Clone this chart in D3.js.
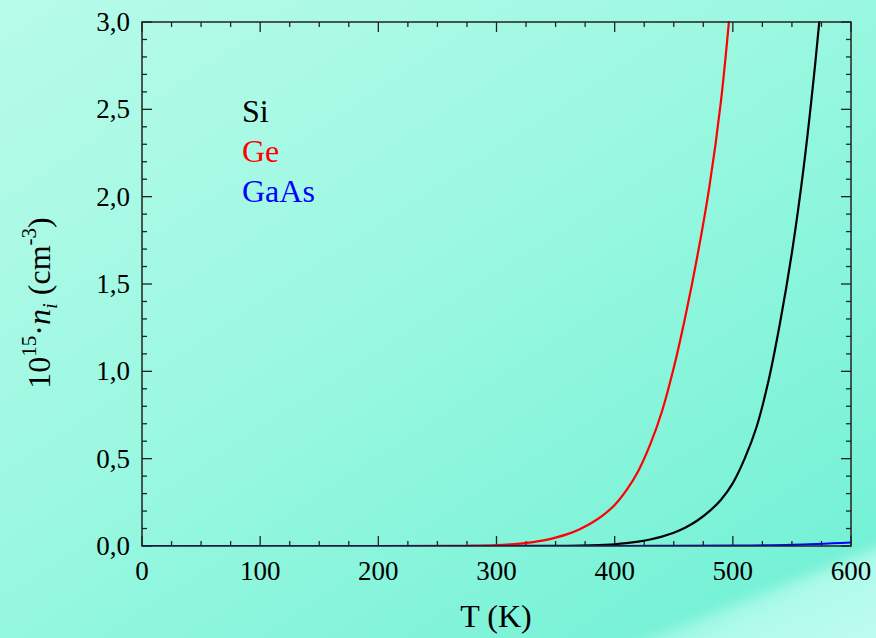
<!DOCTYPE html>
<html>
<head>
<meta charset="utf-8">
<script src="https://cdn.jsdelivr.net/npm/d3@7"></script>
<style>
	html, body { margin: 0; padding: 0; overflow: hidden; }
	svg { display: block; font-family: "Liberation Serif", "Times New Roman", serif; }
</style>
</head>
<body>
<div id="chart"></div>
<script>
// temperatures (K) and intrinsic carrier density (10^15 cm^-3)
const geT = [0, 200, 260, 280, 300, 320, 340, 350, 360, 370, 380, 390, 400, 410, 420, 430, 440, 450, 460, 470, 480, 490, 500];
const geN = [0, 0, 0.001, 0.002, 0.005, 0.014, 0.032, 0.048, 0.068, 0.095, 0.13, 0.175, 0.235, 0.32, 0.43, 0.58, 0.77, 1.02, 1.32, 1.66, 2.05, 2.55, 3.25];
const siT = [0, 300, 360, 380, 400, 410, 420, 430, 440, 450, 460, 470, 480, 490, 500, 510, 520, 530, 540, 550, 560, 570, 580];
const siN = [0, 0, 0.001, 0.004, 0.01, 0.016, 0.025, 0.037, 0.054, 0.076, 0.106, 0.146, 0.198, 0.265, 0.36, 0.5, 0.68, 0.94, 1.28, 1.68, 2.17, 2.78, 3.5];
const gaasT = [0, 400, 450, 500, 550, 600];
const gaasN = [0, 0.0001, 0.0005, 0.002, 0.007, 0.02];

const seriesNames = ['Si', 'Ge', 'GaAs'];
const seriesColors = ['#000000', '#ff0000', '#0000ff'];

const xTicks = [0, 100, 200, 300, 400, 500, 600];
const yTicks = [0, 0.5, 1.0, 1.5, 2.0, 2.5, 3.0];

const W = 876, H = 638;
const plot = {left: 142, right: 851, top: 22, bottom: 546};

const _zip = (xs, ys) => xs.map((x, i) => ({t: x, n: ys[i]}));

const series = [
	{name: 'Si', color: seriesColors[0], values: _zip(siT, siN)},
	{name: 'Ge', color: seriesColors[1], values: _zip(geT, geN)},
	{name: 'GaAs', color: seriesColors[2], values: _zip(gaasT, gaasN)}
];

const svg = d3.select('#chart')
	.append('svg')
	.attr('width', W)
	.attr('height', H);

// background
const defs = svg.append('defs');
const bg = defs.append('linearGradient')
	.attr('id', 'bg')
	.attr('x1', 0).attr('y1', 0).attr('x2', 0.9).attr('y2', 1);
bg.append('stop').attr('offset', '0%').attr('stop-color', '#b8fbea');
bg.append('stop').attr('offset', '45%').attr('stop-color', '#9cf8e1');
bg.append('stop').attr('offset', '100%').attr('stop-color', '#72f1d5');

const band = defs.append('linearGradient')
	.attr('id', 'band')
	.attr('gradientUnits', 'userSpaceOnUse')
	.attr('x1', 760).attr('y1', 545).attr('x2', 810).attr('y2', 650);
band.append('stop').attr('offset', '0%').attr('stop-color', '#bafced').attr('stop-opacity', 0);
band.append('stop').attr('offset', '55%').attr('stop-color', '#bafced').attr('stop-opacity', 0.85);
band.append('stop').attr('offset', '100%').attr('stop-color', '#bafced').attr('stop-opacity', 1);

defs.append('filter')
	.attr('id', 'soft')
	.append('feGaussianBlur')
	.attr('stdDeviation', 6);

defs.append('clipPath')
	.attr('id', 'plotclip')
	.append('rect')
	.attr('x', plot.left).attr('y', plot.top - 1)
	.attr('width', plot.right - plot.left + 1)
	.attr('height', plot.bottom - plot.top + 1);

svg.append('rect').attr('width', W).attr('height', H).attr('fill', 'url(#bg)');
svg.append('path')
	.attr('d', `M600,${H + 20} L${W + 20},540 L${W + 20},${H + 20} Z`)
	.attr('fill', 'url(#band)')
	.attr('filter', 'url(#soft)');

const xScale = d3.scaleLinear().domain([0, 600]).range([plot.left, plot.right]);
const yScale = d3.scaleLinear().domain([0, 3]).range([plot.bottom, plot.top]);

const fmt = d => d3.format('.1f')(d).replace('.', ',');
const axisColor = '#222';

// ticks (inward, mirrored on all four sides)
const xMinor = d3.range(0, 601, 25).filter(v => v % 100 !== 0);
const yMinor = d3.range(0, 31, 1).map(v => v / 10).filter(v => Math.round(v * 10) % 5 !== 0);

const tickG = svg.append('g').attr('stroke', axisColor).attr('stroke-width', 1.3);

const _vTicks = (vals, len) => {
	vals.forEach(v => {
		tickG.append('line').attr('x1', xScale(v)).attr('x2', xScale(v))
			.attr('y1', plot.bottom).attr('y2', plot.bottom - len);
		tickG.append('line').attr('x1', xScale(v)).attr('x2', xScale(v))
			.attr('y1', plot.top).attr('y2', plot.top + len);
	});
};
const _hTicks = (vals, len) => {
	vals.forEach(v => {
		tickG.append('line').attr('y1', yScale(v)).attr('y2', yScale(v))
			.attr('x1', plot.left).attr('x2', plot.left + len);
		tickG.append('line').attr('y1', yScale(v)).attr('y2', yScale(v))
			.attr('x1', plot.right).attr('x2', plot.right - len);
	});
};
_vTicks(xTicks, 10);
_vTicks(xMinor, 5);
_hTicks(yTicks, 10);
_hTicks(yMinor, 5);

// curves
const line = d3.line()
	.x(d => xScale(d.t))
	.y(d => yScale(d.n))
	.curve(d3.curveCatmullRom.alpha(0.5));

svg.append('g')
	.attr('clip-path', 'url(#plotclip)')
	.selectAll('path')
	.data(series)
	.enter()
	.append('path')
	.attr('d', d => line(d.values))
	.attr('fill', 'none')
	.attr('stroke', d => d.color)
	.attr('stroke-width', 2.2);

// frame
svg.append('rect')
	.attr('x', plot.left).attr('y', plot.top)
	.attr('width', plot.right - plot.left)
	.attr('height', plot.bottom - plot.top)
	.attr('fill', 'none')
	.attr('stroke', axisColor)
	.attr('stroke-width', 1.5);

// tick labels
svg.append('g')
	.selectAll('text')
	.data(xTicks)
	.enter()
	.append('text')
	.attr('x', d => xScale(d))
	.attr('y', 580)
	.attr('text-anchor', 'middle')
	.attr('font-size', 27)
	.text(d => d);

svg.append('g')
	.selectAll('text')
	.data(yTicks)
	.enter()
	.append('text')
	.attr('x', 130)
	.attr('y', d => yScale(d) + 9)
	.attr('text-anchor', 'end')
	.attr('font-size', 27)
	.text(fmt);

// axis titles
svg.append('text')
	.attr('x', 496)
	.attr('y', 627)
	.attr('text-anchor', 'middle')
	.attr('font-size', 32)
	.text('T (K)');

const yTitle = svg.append('text')
	.attr('transform', 'translate(50, 303) rotate(-90)')
	.attr('text-anchor', 'middle')
	.attr('font-size', 32);
yTitle.append('tspan').text('10');
yTitle.append('tspan').attr('font-size', 21).attr('dy', -14).text('15');
yTitle.append('tspan').attr('dy', 14).text('·');
yTitle.append('tspan').attr('font-style', 'italic').text('n');
yTitle.append('tspan').attr('font-style', 'italic').attr('font-size', 21).attr('dy', 7).text('i');
yTitle.append('tspan').attr('dy', -7).text(' (cm');
yTitle.append('tspan').attr('font-size', 21).attr('dy', -14).text('-3');
yTitle.append('tspan').attr('dy', 14).text(')');

// legend
svg.append('g')
	.selectAll('text')
	.data(seriesNames)
	.enter()
	.append('text')
	.attr('x', 242)
	.attr('y', (d, i) => 122 + i * 40)
	.attr('font-size', 32)
	.attr('fill', (d, i) => seriesColors[i])
	.text(d => d);
</script>
</body>
</html>
